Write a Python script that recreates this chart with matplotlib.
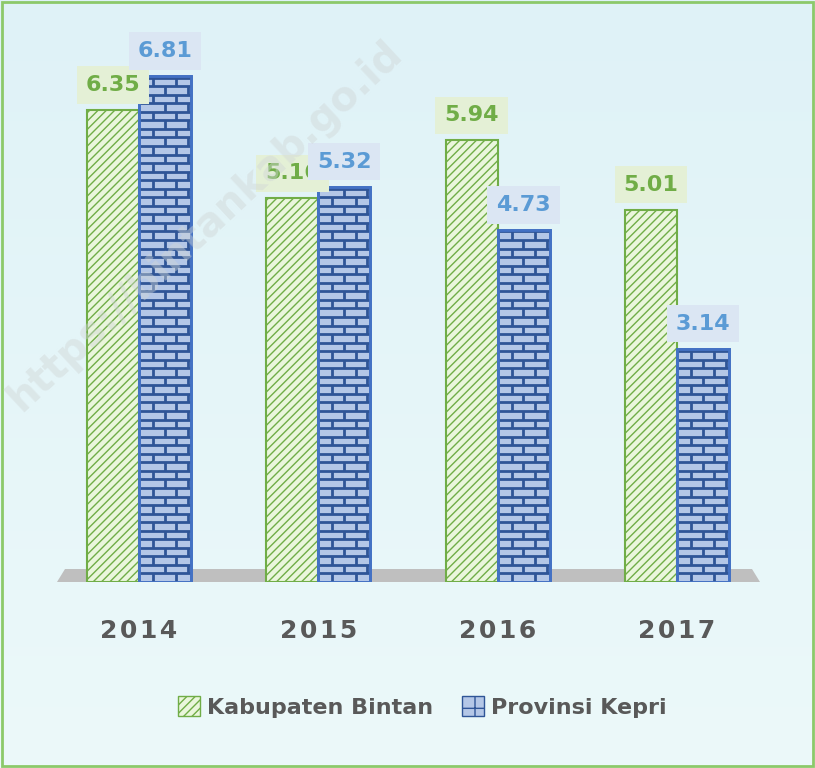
import matplotlib.pyplot as plt
import numpy as np
from matplotlib.patches import Patch, Rectangle, Polygon
from matplotlib.collections import LineCollection
from matplotlib.colors import LinearSegmentedColormap

years = ['2014', '2015', '2016', '2017']
bintan = [6.35, 5.16, 5.94, 5.01]
kepri = [6.81, 5.32, 4.73, 3.14]

GREEN = '#70ad47'
GREEN_FACE = '#eaf6dc'
BLUE = '#4472c4'
BLUE_DARK = '#2f5597'
BLUE_FACE = '#b4c7e7'
GREY_TXT = '#595959'

plt.rcParams['hatch.linewidth'] = 1.0

fig = plt.figure(figsize=(8.15, 7.68), dpi=100)

# fondo degradado
bg = fig.add_axes([0, 0, 1, 1], zorder=-10)
grad = np.linspace(0, 1, 256).reshape(-1, 1)
cmap = LinearSegmentedColormap.from_list('bg', ['#dff2f7', '#ecf9fa'])
bg.imshow(grad, aspect='auto', cmap=cmap, extent=[0, 1, 0, 1])
bg.axis('off')
fig.patches.append(Rectangle((0.002, 0.002), 0.996, 0.996, transform=fig.transFigure,
                             fill=False, edgecolor='#8cc96a', linewidth=2))

ax = fig.add_axes([40 / 815, 186 / 768, 740 / 815, 562 / 768])
ax.set_facecolor('none')
ax.set_xlim(-0.552, 3.575)
ax.set_ylim(0, 7.56)
for s in ax.spines.values():
    s.set_visible(False)
ax.set_yticks([])

# piso gris
floor = Polygon([(17 / 740, 0), (25 / 740, 13 / 562), (712 / 740, 13 / 562), (720 / 740, 0)],
                closed=True, transform=ax.transAxes, facecolor='#bfbfbf', edgecolor='none', zorder=1)
ax.add_patch(floor)

x = np.arange(len(years))
w = 0.29
gbars = ax.bar(x - w / 2, bintan, w, facecolor=GREEN_FACE, edgecolor=GREEN, hatch='////',
               linewidth=1.5, zorder=3)
bbars = ax.bar(x + w / 2, kepri, w, facecolor=BLUE_FACE, edgecolor=BLUE, linewidth=2, zorder=3)

# ladrillos en las barras azules
rh = 0.115
bw = 0.13
for rect, v in zip(bbars, kepri):
    x0 = rect.get_x()
    x1 = x0 + rect.get_width()
    ys = np.arange(rh, v, rh)
    ln = ax.hlines(ys, x0, x1, color=BLUE_DARK, linewidth=2, zorder=4)
    ln.set_clip_path(rect)
    segs = []
    for i, yb in enumerate(np.arange(0, v, rh)):
        off = 0.0 if i % 2 == 0 else bw / 2
        for xv in np.arange(x0 + bw * 0.6 + off, x1, bw):
            segs.append(((xv, yb), (xv, min(yb + rh, v))))
    lc = LineCollection(segs, colors=BLUE_DARK, linewidths=2, zorder=4)
    lc.set_clip_path(rect)
    ax.add_collection(lc)
    ax.add_patch(Rectangle((x0, 0), rect.get_width(), v, fill=False, edgecolor=BLUE,
                           linewidth=2, zorder=5))

lab_font = dict(family='DejaVu Sans', fontweight='bold', fontsize=16)
for rect, v in zip(gbars, bintan):
    ax.annotate(f'{v:.2f}', (rect.get_x() + rect.get_width() / 2, v), xytext=(0, 18),
                textcoords='offset points', ha='center', va='center', color=GREEN,
                bbox=dict(boxstyle='square,pad=0.4', fc='#e4f0d6', ec='none'), zorder=6, **lab_font)
for rect, v in zip(bbars, kepri):
    ax.annotate(f'{v:.2f}', (rect.get_x() + rect.get_width() / 2, v), xytext=(0, 18),
                textcoords='offset points', ha='center', va='center', color='#5b9bd5',
                bbox=dict(boxstyle='square,pad=0.4', fc='#dbe6f3', ec='none'), zorder=6, **lab_font)

ax.set_xticks(x, ['\u200a'.join(y) for y in years])
ax.tick_params(axis='x', length=0, pad=27)
for t in ax.get_xticklabels():
    t.set_fontsize(18)
    t.set_fontweight('bold')
    t.set_color(GREY_TXT)

# marca de agua
fig.text(0.0, 0.455, 'https://bintankab.go.id', rotation=43, fontsize=29, fontweight='bold',
         color='#d0d6d6', alpha=0.45, ha='left', va='bottom', zorder=20)

handles = [Patch(facecolor=GREEN_FACE, edgecolor=GREEN, hatch='////', label='Kabupaten Bintan'),
           Patch(facecolor=BLUE_FACE, edgecolor=BLUE_DARK, hatch='+', label='Provinsi Kepri')]
fig.legend(handles=handles, loc='center', bbox_to_anchor=(422 / 815, 1 - 707 / 768), ncol=2,
           frameon=False, handlelength=1.0, handleheight=1.0, handletextpad=0.3, columnspacing=1.3,
           prop=dict(family='DejaVu Sans', weight='bold', size=16),
           labelcolor=GREY_TXT)

fig.savefig('out.png', dpi=100)
